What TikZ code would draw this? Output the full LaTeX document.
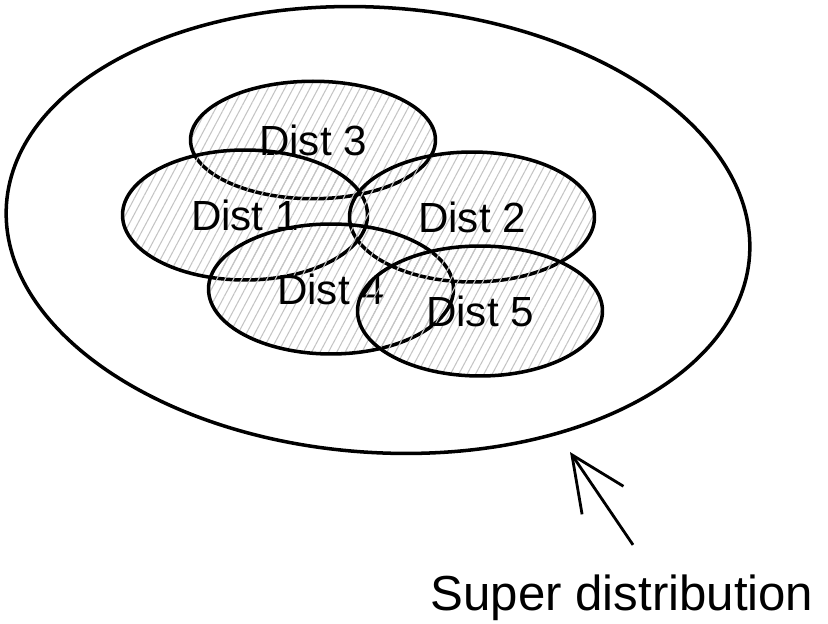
\documentclass[tikz,border=0pt]{standalone}
\usepackage{fontspec}
\setmainfont{Liberation Sans}
\definecolor{hatchGray}{HTML}{C4C4C4}
\usetikzlibrary{
	arrows.meta,
	shapes.geometric,
	patterns.meta
}
\tikzset{
	distblob/.style={ellipse, draw, line width=2pt, minimum width=4.9cm, minimum height=2.6cm,
		pattern={Lines[angle=62,distance=4.2pt,line width=0.6pt]}, pattern color=hatchGray,
		font=\fontsize{24}{28}\selectfont, inner sep=0pt},
	superblob/.style={ellipse, draw, line width=2pt, minimum width=14.9cm, minimum height=8.9cm}
}
\begin{document}
\begin{tikzpicture}[x=0.02cm,y=-0.02cm]
		\useasboundingbox (0,0) rectangle (828,624);
		\node[superblob, rotate=-4] (super) at (378,230) {};
		\node[distblob, minimum height=2.35cm] (d3) at (313,140) {Dist 3};
		\node[distblob] (d1) at (245,215) {Dist 1};
		\node[distblob] (d2) at (472,217) {Dist 2};
		\node[distblob] (d4) at (331,289) {Dist 4};
		\node[distblob] (d5) at (480,311) {Dist 5};
		\node[font=\fontsize{28}{32}\selectfont] (lbl) at (622,598) {Super distribution};
		\coordinate (tip) at (570,452);
		\draw[line width=1.6pt, -{Straight Barb[length=11mm,width=10mm,line width=1.6pt]}] (lbl.north) ++(11,-24) -- (tip);
	\end{tikzpicture}
\end{document}
